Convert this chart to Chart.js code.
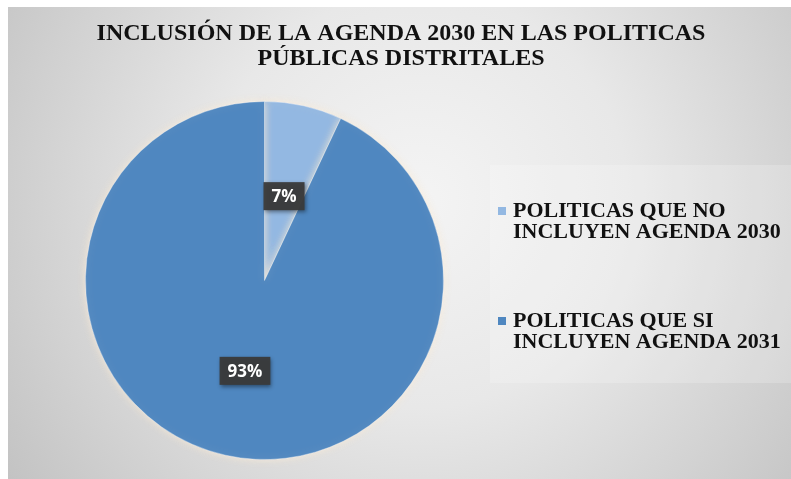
<!DOCTYPE html>
<html>
<head>
<meta charset="utf-8">
<script src="https://cdn.jsdelivr.net/npm/chart.js@4"></script>
<style>
html,body{margin:0;padding:0;background:#fff;}
#wrap{width:791px;height:479px;}
</style>
</head>
<body>
<div id="wrap"><canvas id="c" width="791" height="479"></canvas></div>
<script>
const titleLines = ["INCLUSIÓN DE LA AGENDA 2030 EN LAS POLITICAS", "PÚBLICAS DISTRITALES"];
const categories = [["POLITICAS QUE NO", "INCLUYEN AGENDA 2030"], ["POLITICAS QUE SI", "INCLUYEN AGENDA 2031"]];
const values = [7, 93];
const colors = ["#93b8e2", "#4f87c0"];

const bgPlugin = {
  id: 'bg',
  beforeDraw(chart) {
    const ctx = chart.ctx;
    ctx.save();
    ctx.fillStyle = '#ffffff';
    ctx.fillRect(0, 0, chart.width, chart.height);
    const g = ctx.createRadialGradient(420, 200, 0, 420, 200, 520);
    g.addColorStop(0, '#f4f4f4');
    g.addColorStop(0.4, '#e8e8e8');
    g.addColorStop(1, '#c0c0c0');
    ctx.fillStyle = g;
    ctx.fillRect(8, 7, chart.width - 8, chart.height - 7);
    // legend panel
    ctx.fillStyle = 'rgba(255,255,255,0.2)';
    ctx.fillRect(490, 165, chart.width - 490, 218);
    // title
    ctx.fillStyle = '#111111';
    ctx.font = 'bold 24px "Liberation Serif"';
    ctx.textAlign = 'center';
    ctx.textBaseline = 'middle';
    ctx.fillText(titleLines[0], 401, 34);
    ctx.fillText(titleLines[1], 401, 59);
    ctx.restore();
  },
  beforeDatasetsDraw(chart) {
    const ctx = chart.ctx;
    ctx.save();
    ctx.shadowColor = 'rgba(250,235,215,0.9)';
    ctx.shadowBlur = 8;
  },
  afterDatasetsDraw(chart) {
    const ctx = chart.ctx;
    ctx.restore();
    const meta = chart.getDatasetMeta(0);
    const data = chart.data.datasets[0].data;
    const total = data.reduce((a, b) => a + b, 0);
    ctx.save();
    ctx.font = 'bold 17px "Open Sans"';
    ctx.textAlign = 'center';
    ctx.textBaseline = 'middle';
    meta.data.forEach((arc, i) => {
      const p = arc.tooltipPosition();
      const txt = Math.round(data[i] / total * 100) + '%';
      const w = ctx.measureText(txt).width + 16;
      const h = 28;
      ctx.shadowColor = 'rgba(0,0,0,0.45)';
      ctx.shadowBlur = 4;
      ctx.shadowOffsetX = 1;
      ctx.shadowOffsetY = 2;
      ctx.fillStyle = 'rgba(58,58,58,0.95)';
      ctx.fillRect(p.x - w / 2, p.y + 3 - h / 2, w, h);
      ctx.shadowColor = 'transparent';
      ctx.fillStyle = '#ffffff';
      ctx.fillText(txt, p.x, p.y + 4);
    });
    // legend
    const labels = chart.data.labels;
    ctx.font = 'bold 22px "Liberation Serif"';
    ctx.textAlign = 'left';
    ctx.textBaseline = 'middle';
    const startYs = [211, 321];
    labels.forEach((lab, i) => {
      const y = startYs[i];
      ctx.fillStyle = colors[i];
      ctx.fillRect(498, y - 4, 8, 8);
      ctx.fillStyle = '#111111';
      lab.forEach((line, k) => ctx.fillText(line, 513, y + k * 21));
    });
    ctx.restore();
  }
};

new Chart(document.getElementById('c'), {
  type: 'pie',
  data: {
    labels: categories,
    datasets: [{
      data: values,
      backgroundColor: colors,
      borderColor: 'rgba(255,255,255,0.35)',
      borderWidth: 1
    }]
  },
  options: {
    responsive: false,
    animation: false,
    layout: { padding: { left: 85, right: 347, top: 101, bottom: 19 } },
    plugins: {
      legend: { display: false },
      title: { display: false },
      tooltip: { enabled: false }
    }
  },
  plugins: [bgPlugin]
});
</script>
</body>
</html>
